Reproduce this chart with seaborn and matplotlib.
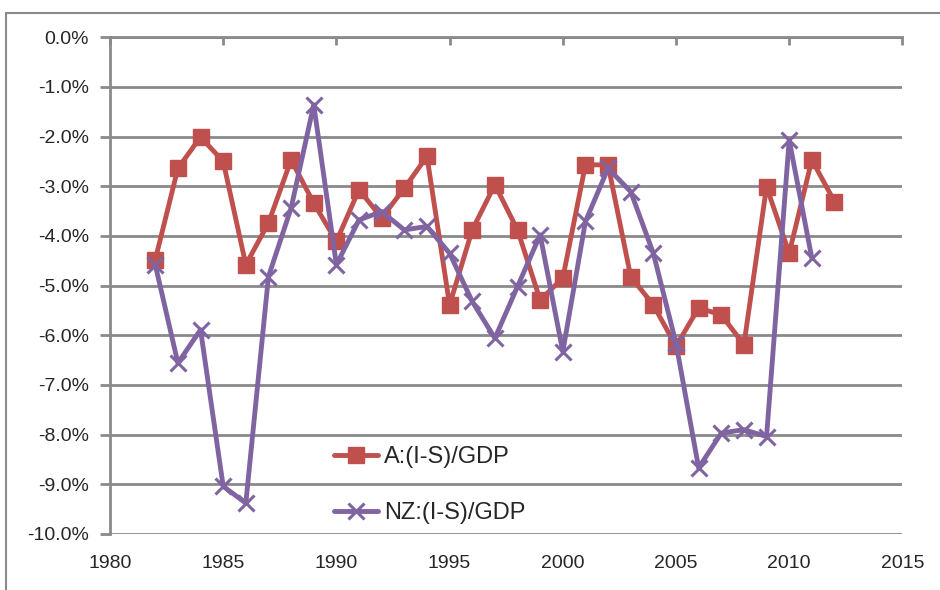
import numpy as np
import pandas as pd
import matplotlib
matplotlib.use("Agg")
import matplotlib.pyplot as plt
import seaborn as sns
from matplotlib.ticker import FuncFormatter, MultipleLocator
from matplotlib.lines import Line2D

years_a = list(range(1982, 2013))
a_vals = [-4.48, -2.64, -2.01, -2.50, -4.58, -3.74, -2.47, -3.34, -4.11, -3.07,
          -3.64, -3.04, -2.40, -5.39, -3.88, -2.97, -3.88, -5.29, -4.85, -2.57,
          -2.57, -4.82, -5.39, -6.22, -5.45, -5.59, -6.19, -3.01, -4.35, -2.47,
          -3.31]
years_nz = list(range(1982, 2012))
nz_vals = [-4.58, -6.56, -5.89, -9.04, -9.38, -4.82, -3.44, -1.36, -4.58, -3.68,
           -3.51, -3.88, -3.81, -4.35, -5.32, -6.06, -5.02, -3.98, -6.33, -3.71,
           -2.64, -3.11, -4.35, -6.16, -8.67, -7.97, -7.90, -8.04, -2.07, -4.45]
series_names = ["A:(I-S)/GDP", "NZ:(I-S)/GDP"]

df_a = pd.DataFrame({"year": years_a, "value": a_vals})
df_nz = pd.DataFrame({"year": years_nz, "value": nz_vals})

sns.set_style("white")
plt.rcParams["font.family"] = ["Liberation Sans", "DejaVu Sans"]
plt.rcParams["axes.unicode_minus"] = False

grid_c = "#8a8a8a"
red = "#C0504D"
purple = "#8064A2"

fig = plt.figure(figsize=(9.4, 5.9), dpi=100)
ax = fig.add_axes([0.117, 0.095, 0.843, 0.842])

sns.lineplot(data=df_a, x="year", y="value", color=red, marker="s",
             markersize=11, markeredgecolor=red, markeredgewidth=1,
             linewidth=3.5, ax=ax, label=series_names[0], zorder=3)
sns.lineplot(data=df_nz, x="year", y="value", color=purple, marker="x",
             markersize=12, markeredgewidth=2.2, markeredgecolor=purple,
             linewidth=3.5, ax=ax, label=series_names[1], zorder=4)

ax.set_xlim(1980, 2015)
ax.set_ylim(-10, 0)
ax.xaxis.set_major_locator(MultipleLocator(5))
ax.yaxis.set_major_locator(MultipleLocator(1))
ax.yaxis.set_major_formatter(FuncFormatter(lambda v, p: f"{v:.1f}%"))
ax.set_xlabel("")
ax.set_ylabel("")

ax.grid(axis="y", color=grid_c, linewidth=2)
ax.grid(axis="x", visible=False)
ax.set_axisbelow(True)
for s in ["right", "bottom"]:
    ax.spines[s].set_visible(False)
for s in ["top", "left"]:
    ax.spines[s].set_visible(True)
    ax.spines[s].set_color(grid_c)
    ax.spines[s].set_linewidth(2)

ax.tick_params(axis="x", which="both", top=True, bottom=False, labeltop=False,
               labelbottom=True, direction="in", length=6, width=2, color=grid_c,
               pad=15, labelsize=14)
ax.tick_params(axis="y", left=True, direction="out", length=7, width=2,
               color=grid_c, pad=8, labelsize=14)

ax.legend(loc="center left", bbox_to_anchor=(0.256, 0.098),
          frameon=False, fontsize=17, handlelength=1.85, handletextpad=0.25,
          labelspacing=1.45)

# chart frame (top and left edges)
fig.add_artist(Line2D([6 / 940, 1], [1 - 13 / 590, 1 - 13 / 590],
                      transform=fig.transFigure, color=grid_c, linewidth=1.5))
fig.add_artist(Line2D([6 / 940, 6 / 940], [0, 1 - 13 / 590],
                      transform=fig.transFigure, color=grid_c, linewidth=1.5))

fig.savefig("out.png", dpi=100)
